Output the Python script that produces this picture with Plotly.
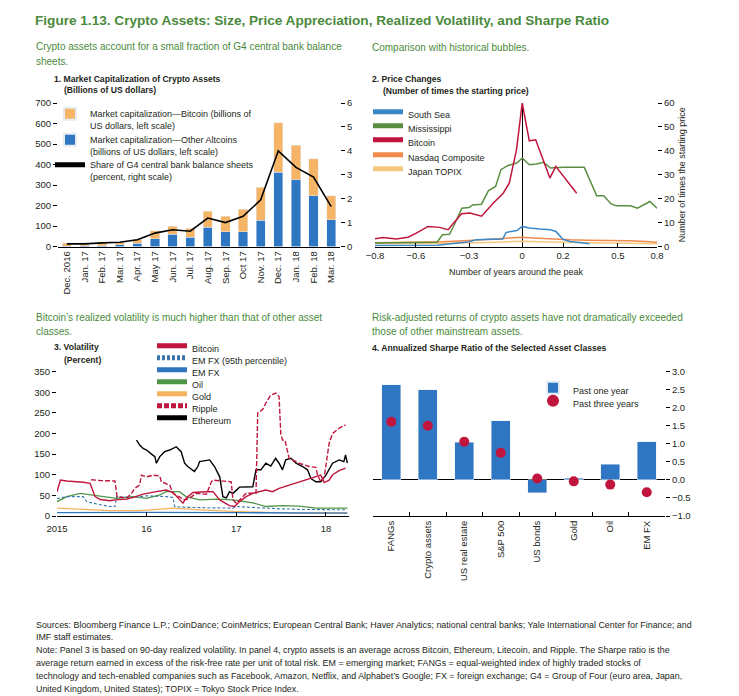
import plotly.graph_objects as go

FONT = "Liberation Sans, Arial, sans-serif"
TXT = "#231F20"
GREEN = "#4A8A3C"
BLUE = "#2F77C3"
ORANGE = "#F5B466"
CRIMSON = "#C0163E"
W, H = 739, 696


def px(x):
    return x / W


def py(y):
    return 1 - y / H


# ---------------- Panel 1: market capitalization ----------------
months = ["Dec. 2016", "Jan. 17", "Feb. 17", "Mar. 17", "Apr. 17", "May 17", "Jun. 17", "Jul. 17",
          "Aug. 17", "Sep. 17", "Oct 17", "Nov. 17", "Dec. 17", "Jan. 18", "Feb. 18", "Mar. 18"]
bitcoin_cap = [13, 15, 17, 12, 20, 39, 38, 46, 78, 74, 109, 161, 241, 167, 180, 118]
altcoin_cap = [2, 3, 3, 8, 16, 39, 60, 44, 93, 73, 73, 127, 362, 326, 248, 130]
g4_share = [0.11, 0.11, 0.15, 0.18, 0.28, 0.56, 0.70, 0.64, 1.19, 1.00, 1.26, 1.95, 4.00, 3.31, 2.90, 1.67]

# ---------------- Panel 2: price changes around the peak ----------------
p2_tickvals = [-0.83, -0.6, -0.3, 0.0, 0.23, 0.54, 0.76]
p2_ticktext = ["\u22120.8", "\u22120.6", "\u22120.3", "0", "0.2", "0.5", "0.8"]

south_sea_x = [-0.83, -0.6, -0.48, -0.40, -0.30, -0.26, -0.18, -0.11, -0.09, -0.03, 0.0, 0.04,
               0.10, 0.16, 0.19, 0.23, 0.27, 0.33, 0.38]
south_sea_y = [0.4, 0.4, 0.5, 1.1, 2.0, 2.8, 2.8, 3.1, 5.9, 6.7, 8.4, 7.7, 7.3, 7.0, 6.3, 3.0, 2.1, 1.6, 1.2]

mississippi_x = [-0.83, -0.7, -0.6, -0.48, -0.45, -0.41, -0.38, -0.34, -0.30, -0.28, -0.23, -0.19,
                 -0.15, -0.12, -0.08, -0.03, 0.0, 0.04, 0.08, 0.12, 0.16, 0.23, 0.35, 0.42, 0.46,
                 0.50, 0.53, 0.61, 0.65, 0.72, 0.76]
mississippi_y = [1.5, 1.6, 1.6, 1.8, 4.9, 5.1, 9.5, 16.0, 16.3, 17.4, 17.7, 23.4, 25.1, 32.1, 33.9,
                 34.9, 37.0, 34.2, 34.5, 35.2, 32.8, 33.1, 33.1, 21.2, 21.2, 17.9, 17.0, 17.0, 16.0,
                 18.8, 16.0]

bitcoin_px = [-0.83, -0.785, -0.71, -0.644, -0.597, -0.531, -0.465, -0.418, -0.39, -0.342, -0.295,
              -0.229, -0.164, -0.107, -0.073, -0.032, 0.0, 0.04, 0.076, 0.119, 0.156, 0.189, 0.232,
              0.269, 0.307]
bitcoin_py = [3.2, 3.8, 3.1, 3.9, 5.6, 8.4, 8.0, 7.0, 9.5, 13.7, 14.0, 12.7, 18.1, 22.3, 26.5, 40.5,
              60.0, 44.2, 44.6, 36.3, 28.6, 33.5, 29.3, 25.8, 22.3]

nasdaq_x = [-0.83, -0.6, -0.45, -0.3, -0.2, -0.07, 0.0, 0.06, 0.18, 0.27, 0.37, 0.5, 0.6, 0.7, 0.76]
nasdaq_y = [1.6, 1.7, 2.0, 2.5, 3.0, 3.5, 3.9, 3.6, 3.0, 2.8, 2.6, 2.6, 2.4, 2.1, 1.8]

topix_x = [-0.83, -0.6, -0.4, -0.2, -0.05, 0.0, 0.1, 0.25, 0.4, 0.55, 0.7, 0.76]
topix_y = [1.3, 1.3, 1.4, 1.7, 2.0, 2.2, 2.0, 1.7, 1.5, 1.4, 1.3, 1.2]

# ---------------- Panel 3: volatility ----------------
vol_tickvals = ["2015-01-01", "2016-01-01", "2017-01-01", "2018-01-01"]
vol_ticktext = ["2015", "16", "17", "18"]

btc_vol_dates = ["2015-01-01", "2015-01-15", "2015-02-10", "2015-03-10", "2015-04-18", "2015-05-16",
                 "2015-06-05", "2015-06-26", "2015-08-05", "2015-08-25", "2015-10-12", "2015-11-08",
                 "2015-12-18", "2016-02-10", "2016-03-21", "2016-04-18", "2016-05-14", "2016-05-28",
                 "2016-06-10", "2016-07-08", "2016-09-01", "2016-09-28", "2016-10-25", "2016-12-04",
                 "2016-12-25", "2017-01-14", "2017-02-10", "2017-03-09", "2017-05-01", "2017-05-28",
                 "2017-06-24", "2017-08-04", "2017-09-14", "2017-10-25", "2017-11-21", "2017-12-11",
                 "2017-12-25", "2018-01-14", "2018-01-28", "2018-02-24", "2018-03-22"]
btc_vol = [59, 87, 85, 84, 82, 79, 47, 40, 37, 39, 41, 45, 53, 59, 63, 57, 39, 31, 43, 57, 59, 59, 39,
           25, 23, 35, 47, 55, 63, 59, 67, 75, 83, 91, 95, 99, 81, 87, 100, 110, 116]

ripple_dates = ["2015-05-20", "2015-06-26", "2015-08-25", "2015-09-03", "2015-10-12", "2015-11-01",
                "2015-11-14", "2015-12-04", "2015-12-11", "2016-01-01", "2016-01-28", "2016-02-24",
                "2016-03-01", "2016-04-04", "2016-04-18", "2016-05-14", "2016-06-04", "2016-06-24",
                "2016-07-21", "2016-09-01", "2016-09-21", "2016-09-28", "2016-12-11", "2016-12-18",
                "2017-01-01", "2017-02-10", "2017-03-22", "2017-03-29", "2017-04-18", "2017-05-01",
                "2017-05-21", "2017-06-10", "2017-06-24", "2017-07-01", "2017-07-08", "2017-07-18",
                "2017-08-04", "2017-08-18", "2017-09-14", "2017-10-25", "2017-11-21", "2017-11-28",
                "2017-12-11", "2017-12-25", "2018-01-14", "2018-01-28", "2018-02-24", "2018-03-22"]
ripple_vol = [88, 86, 85, 47, 43, 55, 67, 75, 99, 95, 99, 97, 83, 75, 55, 47, 39, 43, 55, 53, 83, 87,
              83, 39, 31, 55, 55, 250, 258, 274, 293, 298, 290, 200, 184, 184, 140, 136, 128, 120, 118,
              99, 83, 95, 176, 200, 213, 221]

eth_dates = ["2015-11-21", "2015-12-04", "2015-12-18", "2016-01-01", "2016-01-21", "2016-02-04",
             "2016-02-10", "2016-02-24", "2016-03-15", "2016-04-04", "2016-05-01", "2016-05-21",
             "2016-06-04", "2016-06-17", "2016-07-14", "2016-07-28", "2016-08-04", "2016-09-14",
             "2016-10-04", "2016-10-25", "2016-11-07", "2016-11-21", "2016-12-04", "2016-12-18",
             "2017-01-14", "2017-03-09", "2017-03-22", "2017-04-11", "2017-05-01", "2017-05-21",
             "2017-06-10", "2017-06-24", "2017-07-08", "2017-07-21", "2017-08-11", "2017-09-01",
             "2017-09-28", "2017-10-18", "2017-11-01", "2017-11-21", "2017-12-11", "2018-01-01",
             "2018-01-28", "2018-02-24", "2018-03-15", "2018-03-22", "2018-03-29"]
eth_vol = [184, 172, 164, 160, 150, 144, 128, 144, 156, 160, 168, 156, 128, 120, 108, 120, 132, 136,
           120, 95, 47, 44, 59, 55, 70, 71, 112, 112, 128, 121, 140, 128, 112, 136, 140, 128, 120, 112,
           91, 83, 83, 99, 128, 136, 132, 148, 128]

emfx95_dates = ["2015-01-01", "2015-02-10", "2015-04-18", "2015-05-02", "2015-06-12", "2015-08-05",
                "2015-08-25", "2015-09-01", "2015-11-08", "2016-01-01", "2016-03-21", "2016-04-18",
                "2016-04-24", "2016-06-10", "2016-12-18", "2017-01-01", "2017-05-01", "2017-09-14",
                "2018-03-29"]
emfx95_vol = [42, 47, 47, 35, 29, 23, 23, 47, 45, 49, 47, 45, 23, 21, 19, 23, 19, 16, 15]

emfx_dates = ["2015-01-01", "2016-01-01", "2017-01-01", "2018-01-01", "2018-03-29"]
emfx_vol = [8, 9, 8, 7, 7]

oil_dates = ["2015-01-01", "2015-02-10", "2015-04-05", "2015-06-26", "2015-09-01", "2015-11-08",
             "2016-01-01", "2016-02-24", "2016-03-21", "2016-05-14", "2016-06-10", "2016-08-04",
             "2016-10-18", "2016-12-18", "2017-03-09", "2017-05-01", "2017-07-08", "2017-09-14",
             "2017-11-21", "2018-03-29"]
oil_vol = [35, 47, 55, 49, 43, 47, 43, 51, 59, 59, 47, 39, 41, 39, 32, 23, 25, 24, 19, 19]

gold_dates = ["2015-01-01", "2015-04-18", "2015-08-05", "2015-12-04", "2016-04-18", "2016-08-04",
              "2016-12-18", "2017-05-01", "2017-09-14", "2018-03-29"]
gold_vol = [19, 16, 13, 13, 19, 15, 11, 9, 7, 8]

# ---------------- Panel 4: Sharpe ratios ----------------
sharpe_cats = ["FANGs", "Crypto assets", "US real estate", "S&P 500", "US bonds", "Gold", "Oil", "EM FX"]
sharpe_1y = [2.64, 2.50, 1.05, 1.64, -0.36, 0.04, 0.43, 1.06]
sharpe_3y = [1.61, 1.50, 1.06, 0.75, 0.04, -0.04, -0.13, -0.34]

# ---------------- Figure ----------------
fig = go.Figure()

# Panel 1
fig.add_trace(go.Bar(x=months, y=altcoin_cap, marker_color=BLUE, xaxis="x", yaxis="y",
                     name="Market capitalization\u2014Other Altcoins<br>(billions of US dollars, left scale)",
                     legend="legend2"))
fig.add_trace(go.Bar(x=months, y=bitcoin_cap, marker_color=ORANGE, xaxis="x", yaxis="y",
                     name="Market capitalization\u2014Bitcoin (billions of<br>US dollars, left scale)",
                     legend="legend"))
fig.add_trace(go.Scatter(x=months, y=g4_share, mode="lines", line=dict(color="black", width=1.6),
                         xaxis="x", yaxis="y2",
                         name="Share of G4 central bank balance sheets<br>(percent, right scale)",
                         legend="legend3"))

# Panel 2
p2 = [
    (topix_x, topix_y, "#F7C77E", "Japan TOPIX", "legend8"),
    (nasdaq_x, nasdaq_y, "#F08A4E", "Nasdaq Composite", "legend7"),
    (south_sea_x, south_sea_y, "#3B88C8", "South Sea", "legend4"),
    (mississippi_x, mississippi_y, "#5A8F42", "Mississippi", "legend5"),
    (bitcoin_px, bitcoin_py, CRIMSON, "Bitcoin", "legend6"),
]
for xs, ys, col, nm, lg in p2:
    fig.add_trace(go.Scatter(x=xs, y=ys, mode="lines", line=dict(color=col, width=1.5),
                             xaxis="x2", yaxis="y3", name=nm, legend=lg))

# Panel 3
p3 = [
    (gold_dates, gold_vol, "#F6B35E", "solid", 1.3, "Gold", "legend13"),
    (emfx_dates, emfx_vol, "#2E75C0", "solid", 1.3, "EM FX", "legend11"),
    (oil_dates, oil_vol, "#4E9646", "solid", 1.3, "Oil", "legend12"),
    (emfx95_dates, emfx95_vol, "#3A75AE", "3px,2px", 1.1, "EM FX (95th percentile)", "legend10"),
    (eth_dates, eth_vol, "black", "solid", 1.4, "Ethereum", "legend15"),
    (ripple_dates, ripple_vol, CRIMSON, "5px,2px", 1.4, "Ripple", "legend14"),
    (btc_vol_dates, btc_vol, CRIMSON, "solid", 1.4, "Bitcoin", "legend9"),
]
for xs, ys, col, dash, lw, nm, lg in p3:
    fig.add_trace(go.Scatter(x=xs, y=ys, mode="lines", line=dict(color=col, width=lw, dash=dash),
                             xaxis="x3", yaxis="y5", name=nm, legend=lg))

# Panel 4
fig.add_trace(go.Bar(x=sharpe_cats, y=sharpe_1y, marker_color=BLUE, xaxis="x4", yaxis="y7",
                     name="Past one year", legend="legend16"))
fig.add_trace(go.Scatter(x=sharpe_cats, y=sharpe_3y, mode="markers",
                         marker=dict(color=CRIMSON, size=10), xaxis="x4", yaxis="y7",
                         name="Past three years", legend="legend17"))

tickfont = dict(family=FONT, size=9.5, color=TXT)
common = dict(showgrid=False, tickfont=tickfont, tickcolor="black", ticklen=4, linecolor="black")
titlefont = dict(family=FONT, size=9, color=TXT)

P1X = [px(58), px(340)]
P2X = [px(375), px(657)]
P3X = [px(57), px(349)]
P4X = [px(373), px(665)]
TOPY = [py(246.5), py(103)]
BOTY = [py(516), py(371.7)]

layout = dict(
    width=W, height=H, autosize=False, showlegend=True,
    margin=dict(l=0, r=0, t=0, b=0, autoexpand=False),
    paper_bgcolor="white", plot_bgcolor="rgba(0,0,0,0)",
    font=dict(family=FONT, size=9.5, color=TXT),
    barmode="stack", bargap=0.47,
    # panel 1
    xaxis=dict(domain=P1X, anchor="y", type="category", range=[-0.5, 15.5], showline=True,
               ticks="", tickangle=-90, zeroline=False, **common),
    yaxis=dict(domain=TOPY, anchor="x", range=[0, 700], dtick=100, ticks="outside",
               showline=False, zeroline=False, **common),
    yaxis2=dict(overlaying="y", anchor="x", side="right", range=[0, 6], dtick=1, ticks="outside",
                showline=False, zeroline=False, **common),
    # panel 2
    xaxis2=dict(domain=P2X, anchor="y3", range=[-0.83, 0.76], tickvals=p2_tickvals,
                ticktext=p2_ticktext, ticks="inside", showline=True, zeroline=True,
                zerolinecolor="black", zerolinewidth=1.2,
                title=dict(text="Number of years around the peak", font=titlefont, standoff=8),
                **common),
    yaxis3=dict(domain=TOPY, anchor="x2", side="right", range=[0, 60], dtick=10, ticks="outside",
                showline=False, zeroline=False,
                title=dict(text="Number of times the starting price", font=titlefont, standoff=5),
                **common),
    yaxis4=dict(overlaying="y3", anchor="x2", side="left", range=[0, 60], dtick=10, ticks="outside",
                showticklabels=False, showline=False, zeroline=False, **common),
    # panel 3
    xaxis3=dict(domain=P3X, anchor="y5", type="date", range=["2015-01-01", "2018-04-05"],
                tickvals=vol_tickvals, ticktext=vol_ticktext, ticks="inside", showline=True,
                ticklabelstandoff=4, zeroline=False, **common),
    yaxis5=dict(domain=BOTY, anchor="x3", range=[0, 350], dtick=50, ticks="outside",
                showline=False, zeroline=False, **common),
    yaxis6=dict(overlaying="y5", anchor="x3", side="right", range=[0, 350], dtick=50, ticks="outside",
                showticklabels=False, showline=False, zeroline=False, **common),
    # panel 4
    xaxis4=dict(domain=P4X, anchor="y7", type="category", range=[-0.5, 7.5], ticks="inside",
                tickson="boundaries", showline=True, tickangle=-90, zeroline=False, **common),
    yaxis7=dict(domain=BOTY, anchor="x4", side="right", range=[-1, 3], dtick=0.5, tickformat=".1f",
                ticks="outside", showline=False, zeroline=True, zerolinecolor="black",
                zerolinewidth=1.2, **common),
    yaxis8=dict(overlaying="y7", anchor="x4", side="left", range=[-1, 3], dtick=0.5, ticks="outside",
                showticklabels=False, showline=False, zeroline=False, **common),
)

# one legend per entry so that the spacing can match the reference
legend_pos = {
    "legend": (90, 120), "legend2": (90, 146), "legend3": (90, 171),
    "legend4": (408, 114), "legend5": (408, 128), "legend6": (408, 142),
    "legend7": (408, 157), "legend8": (408, 171),
    "legend9": (192, 348), "legend10": (192, 360), "legend11": (192, 372), "legend12": (192, 384),
    "legend13": (192, 396), "legend14": (192, 408), "legend15": (192, 420),
    "legend16": (573, 390), "legend17": (573, 403),
}
for key, (tx, cy) in legend_pos.items():
    layout[key] = dict(x=px(tx - 40), y=py(cy), xanchor="left", yanchor="middle",
                       bgcolor="rgba(0,0,0,0)", borderwidth=0, itemwidth=30, valign="top",
                       font=dict(family=FONT, size=9, color=TXT), itemsizing="constant")

fig.update_layout(**layout)


def note(text, x, y, size=10, color=TXT, bold=False, yanchor="middle"):
    if bold:
        text = "<b>" + text + "</b>"
    fig.add_annotation(text=text, x=px(x), y=py(y), xref="paper", yref="paper", xanchor="left",
                       yanchor=yanchor, showarrow=False, align="left",
                       font=dict(family=FONT, size=size, color=color))


note("Figure 1.13. Crypto Assets: Size, Price Appreciation, Realized Volatility, and Sharpe Ratio",
     33, 20.5, size=13.6, color=GREEN, bold=True)
note("Crypto assets account for a small fraction of G4 central bank balance", 34, 47, size=10, color=GREEN)
note("sheets.", 34, 61, size=10, color=GREEN)
note("Comparison with historical bubbles.", 370, 47.5, size=10, color=GREEN)
note("1. Market Capitalization of Crypto Assets", 52, 78.5, size=8.6, bold=True)
note("(Billions of US dollars)", 62, 90, size=8.6, bold=True)
note("2. Price Changes", 370, 78.5, size=8.6, bold=True)
note("(Number of times the starting price)", 381, 91, size=8.6, bold=True)
note("Bitcoin\u2019s realized volatility is much higher than that of other asset", 34, 317, size=10, color=GREEN)
note("classes.", 34, 331, size=10, color=GREEN)
note("Risk-adjusted returns of crypto assets have not dramatically exceeded", 370, 317, size=10, color=GREEN)
note("those of other mainstream assets.", 370, 331, size=10, color=GREEN)
note("3. Volatility", 52, 347, size=8.6, bold=True)
note("(Percent)", 62, 360, size=8.6, bold=True)
note("4. Annualized Sharpe Ratio of the Selected Asset Classes", 370, 348, size=8.6, bold=True)

footer_lines = [
    "Sources: Bloomberg Finance L.P.; CoinDance; CoinMetrics; European Central Bank; Haver Analytics; "
    "national central banks; Yale International Center for Finance; and",
    "IMF staff estimates.",
    "Note: Panel 3 is based on 90-day realized volatility. In panel 4, crypto assets is an average across "
    "Bitcoin, Ethereum, Litecoin, and Ripple. The Sharpe ratio is the",
    "average return earned in excess of the risk-free rate per unit of total risk. EM = emerging market; "
    "FANGs = equal-weighted index of highly traded stocks of",
    "technology and tech-enabled companies such as Facebook, Amazon, Netflix, and Alphabet\u2019s Google; "
    "FX = foreign exchange; G4 = Group of Four (euro area, Japan,",
    "United Kingdom, United States); TOPIX = Tokyo Stock Price Index.",
]
for i, line in enumerate(footer_lines):
    note(line, 34, 624.5 + 12.8 * i, size=8.9)

fig.write_html("out.html", config={"displayModeBar": False},
               post_script="document.body.style.margin='0';document.body.style.overflow='hidden';")
